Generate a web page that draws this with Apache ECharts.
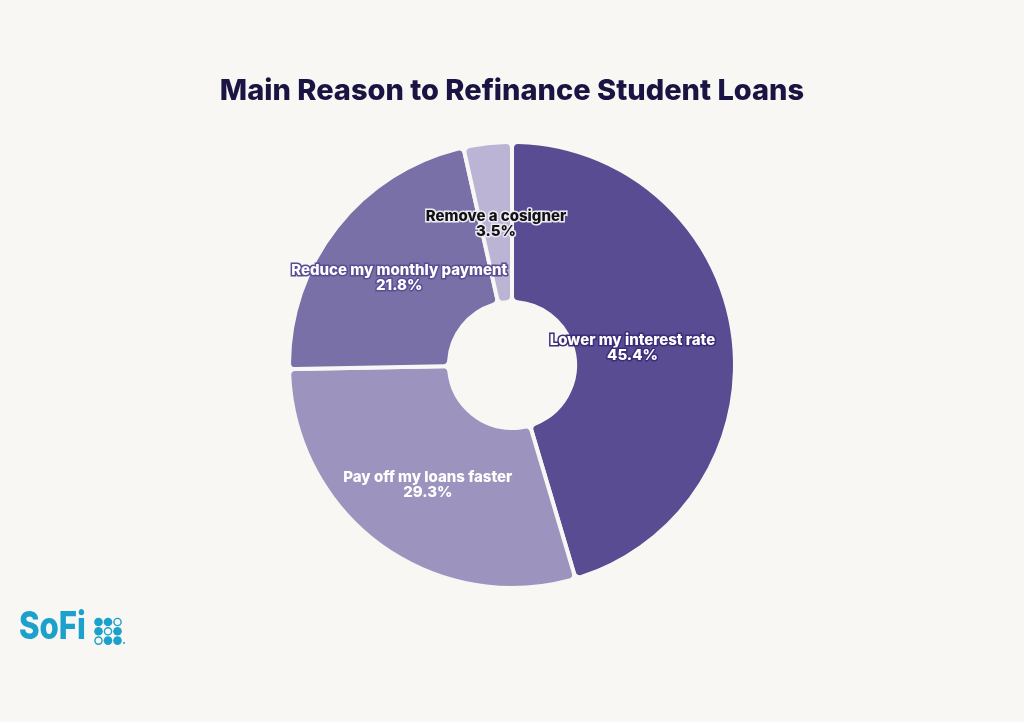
<!DOCTYPE html>
<html>
<head>
<meta charset="utf-8">
<script src="https://cdn.jsdelivr.net/npm/echarts@6/dist/echarts.min.js"></script>
<style>
html,body{margin:0;padding:0;background:#f8f7f4;}
#chart{width:1024px;height:722px;}
</style>
</head>
<body>
<div id="chart"></div>
<script>
const categories = ["Lower my interest rate", "Pay off my loans faster", "Reduce my monthly payment", "Remove a cosigner"];
const values = [45.4, 29.3, 21.8, 3.5];
const colors = ["#594c92", "#9c94bf", "#7a70a8", "#bbb4d4"];
const labelTextColors = ["#ffffff", "#ffffff", "#ffffff", "#111111"];
const labelBorderColors = ["#3b2d78", "#9c94bf", "#5a4d93", "#ece9f5"];
const labelOffsets = [[-24, 4], [2, 2], [2, 3], [0, 4]];

const chart = echarts.init(document.getElementById('chart'));
const data = categories.map((c, i) => ({
  name: c,
  value: values[i],
  itemStyle: { color: colors[i] },
  label: {
    color: labelTextColors[i],
    textBorderColor: labelBorderColors[i],
    textBorderWidth: 3,
    offset: labelOffsets[i]
  }
}));

const dots = [
  [0,0,true],[1,0,true],[2,0,false],
  [0,1,true],[1,1,false],[2,1,true],
  [0,2,false],[1,2,true],[2,2,true]
];
const logoGraphics = [{
  type: 'text', x: 19, y: 609, scaleX: 0.82,
  style: { text: 'SoFi', font: '800 38px "Inter", sans-serif', fill: '#1ba1cb' }
}];
dots.forEach(d => {
  logoGraphics.push({
    type: 'circle',
    shape: { cx: 98.5 + d[0] * 9.5, cy: 622 + d[1] * 9.3, r: d[2] ? 4.3 : 3.6 },
    style: d[2] ? { fill: '#1ba1cb' } : { fill: 'none', stroke: '#1ba1cb', lineWidth: 1.4 }
  });
});
logoGraphics.push({
  type: 'circle', shape: { cx: 124, cy: 643, r: 1 }, style: { fill: '#1ba1cb' }
});

chart.setOption({
  backgroundColor: '#f8f7f4',
  animation: false,
  title: {
    text: 'Main Reason to Refinance Student Loans',
    left: 'center', top: 72,
    textStyle: { fontFamily: 'Inter, sans-serif', fontWeight: 800, fontSize: 29, color: '#1a1442' }
  },
  graphic: logoGraphics,
  series: [{
    type: 'pie',
    center: [512, 365],
    radius: [63, 223],
    startAngle: 90,
    clockwise: true,
    data: data,
    itemStyle: { borderColor: '#f8f7f4', borderWidth: 4, borderRadius: 6 },
    label: {
      show: true,
      position: 'inside',
      formatter: p => p.name + '\n' + p.value.toFixed(1) + '%',
      fontFamily: 'Inter, sans-serif',
      fontWeight: 800,
      fontSize: 15,
      lineHeight: 15,
      align: 'center'
    },
    labelLine: { show: false },
    emphasis: { disabled: true }
  }]
});
</script>
</body>
</html>
